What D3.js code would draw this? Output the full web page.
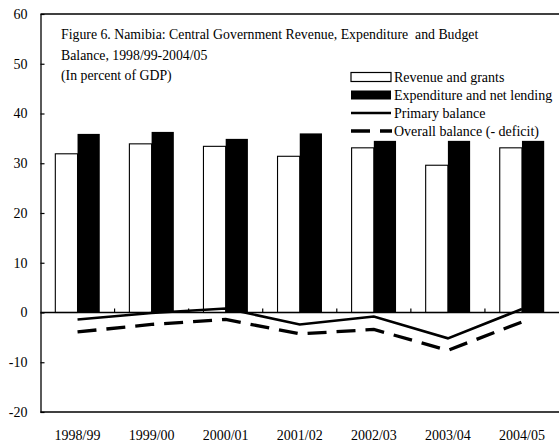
<!DOCTYPE html>
<html>
<head>
<meta charset="utf-8">
<script src="https://cdn.jsdelivr.net/npm/d3@7"></script>
<style>
  html, body { margin: 0; padding: 0; background: #fff; }
  svg { display: block; font-family: "Liberation Serif", "Times New Roman", serif; }
  text { white-space: pre; }
</style>
</head>
<body>
<svg id="chart" width="559" height="443"></svg>
<script>
// Fiscal years on the category axis
const years = ["1998/99", "1999/00", "2000/01", "2001/02", "2002/03", "2003/04", "2004/05"];
// Percent of GDP
const revenue     = [31.9, 33.9, 33.4, 31.4, 33.1, 29.6, 33.1];
const expenditure = [35.9, 36.3, 34.9, 36.0, 34.5, 34.5, 34.5];
const primary     = [-1.4, -0.1, 0.8, -2.4, -0.8, -5.2, 0.7];
const overall     = [-3.9, -2.4, -1.4, -4.3, -3.4, -7.6, -1.9];
const yTicks = [-20, -10, 0, 10, 20, 30, 40, 50, 60];
const titleLines = [
  "Figure 6. Namibia: Central Government Revenue, Expenditure  and Budget",
  "Balance, 1998/99-2004/05",
  "(In percent of GDP)"
];
const legendItems = [
  { label: "Revenue and grants", kind: "hollow" },
  { label: "Expenditure and net lending", kind: "solid" },
  { label: "Primary balance", kind: "line" },
  { label: "Overall balance (- deficit)", kind: "dash" }
];

const svg = d3.select("#chart");
const plotL = 40.5, plotR = 559, plotT = 14, plotB = 412;

const y = d3.scaleLinear().domain([-20, 60]).range([plotB, plotT]);
const x = d3.scaleBand().domain(years).range([plotL, plotR]).paddingInner(0.4).paddingOuter(0.2);
const xs = d3.scaleBand().domain(["rev", "exp"]).range([0, x.bandwidth()]);
const cx = d => x(d) + x.bandwidth() / 2;

// Bars
const g = svg.append("g");
g.selectAll("rect.rev").data(years).join("rect")
  .attr("class", "rev")
  .attr("x", (d) => x(d) + xs("rev"))
  .attr("width", xs.bandwidth())
  .attr("y", (d, i) => y(revenue[i]))
  .attr("height", (d, i) => y(0) - y(revenue[i]))
  .attr("fill", "#fff").attr("stroke", "#000").attr("stroke-width", 1.1);
g.selectAll("rect.exp").data(years).join("rect")
  .attr("class", "exp")
  .attr("x", (d) => x(d) + xs("exp"))
  .attr("width", xs.bandwidth())
  .attr("y", (d, i) => y(expenditure[i]))
  .attr("height", (d, i) => y(0) - y(expenditure[i]))
  .attr("fill", "#000");

// Frame: top and bottom rules
svg.append("line").attr("x1", plotL).attr("x2", plotR).attr("y1", plotT).attr("y2", plotT)
  .attr("stroke", "#000").attr("stroke-width", 1.3);
svg.append("line").attr("x1", plotL).attr("x2", plotR).attr("y1", plotB).attr("y2", plotB)
  .attr("stroke", "#000").attr("stroke-width", 1.3);

// Y axis with inward ticks, plain hyphen for negatives
const yAxis = d3.axisLeft(y).tickValues(yTicks).tickSize(-4).tickPadding(13).tickSizeOuter(0)
  .tickFormat(d => String(d));
const ya = svg.append("g").attr("transform", `translate(${plotL},0)`).call(yAxis);
ya.select(".domain").attr("stroke-width", 1.3);
ya.selectAll(".tick line").attr("stroke-width", 1.2);
ya.selectAll("text").attr("font-size", 14).attr("font-family", "Liberation Serif").attr("fill", "#000");

// Zero line with category separators
const x0 = svg.append("g").attr("transform", `translate(0,${y(0)})`);
x0.append("line").attr("x1", plotL).attr("x2", plotR).attr("stroke", "#000").attr("stroke-width", 1.3);
const seps = years.slice(1).map(d => x(d) - x.step() * x.paddingInner() / 2);
x0.selectAll("line.sep").data(seps).join("line").attr("class", "sep")
  .attr("x1", d => d).attr("x2", d => d).attr("y1", 0).attr("y2", -4)
  .attr("stroke", "#000").attr("stroke-width", 1.2);

// Category labels
svg.append("g").selectAll("text").data(years).join("text")
  .attr("x", d => cx(d)).attr("y", 440)
  .attr("text-anchor", "middle").attr("font-size", 14).text(d => d);

// Balance lines
const line = d3.line().x((d, i) => cx(years[i])).y(d => y(d));
svg.append("path").datum(overall).attr("d", line)
  .attr("fill", "none").attr("stroke", "#000").attr("stroke-width", 3.3)
  .attr("stroke-dasharray", "19,10");
svg.append("path").datum(primary).attr("d", line)
  .attr("fill", "none").attr("stroke", "#000").attr("stroke-width", 2.6);

// Title block
svg.append("g").selectAll("text").data(titleLines).join("text")
  .attr("x", 61).attr("y", (d, i) => 39 + i * 20.5)
  .attr("font-size", 13.8).text(d => d);

// Legend
const lg = svg.append("g").selectAll("g").data(legendItems).join("g")
  .attr("transform", (d, i) => `translate(351,${77 + i * 18})`);
lg.each(function (d) {
  const s = d3.select(this);
  if (d.kind === "hollow") {
    s.append("rect").attr("x", 0).attr("y", -4.5).attr("width", 40).attr("height", 9)
      .attr("fill", "#fff").attr("stroke", "#000").attr("stroke-width", 1.2);
  } else if (d.kind === "solid") {
    s.append("rect").attr("x", 0).attr("y", -4.5).attr("width", 40).attr("height", 9).attr("fill", "#000");
  } else if (d.kind === "line") {
    s.append("line").attr("x1", 0).attr("x2", 40).attr("stroke", "#000").attr("stroke-width", 2.6);
  } else {
    s.append("line").attr("x1", 0).attr("x2", 41).attr("stroke", "#000").attr("stroke-width", 3.3)
      .attr("stroke-dasharray", "19,10");
  }
  s.append("text").attr("x", 43).attr("y", 4.8).attr("font-size", 14).text(d.label);
});
</script>
</body>
</html>
